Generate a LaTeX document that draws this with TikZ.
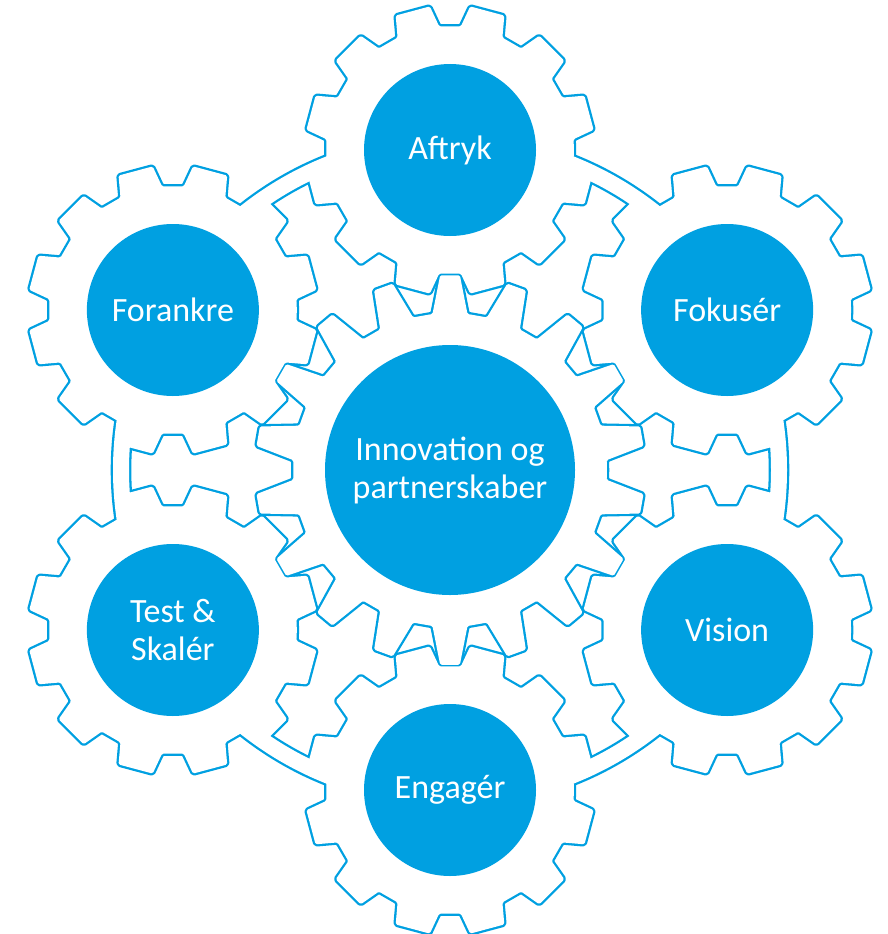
\documentclass[tikz,border=0pt]{standalone}
\usepackage{fontspec}
\setmainfont{Carlito}
\usetikzlibrary{calc,positioning}
\definecolor{gearblue}{RGB}{0,160,225}
\newcommand{\gearpath}[6]{({#2-180/#1}:#3)
  \foreach \t in {1,...,#1}{
    -- ({#2+(\t-1)*360/#1-#5}:#3) -- ({#2+(\t-1)*360/#1-#6}:#4)
    -- ({#2+(\t-1)*360/#1+#6}:#4) -- ({#2+(\t-1)*360/#1+#5}:#3)} -- cycle}

\begin{document}
\begin{tikzpicture}[x=1pt,y=-1pt,
  rim/.style={draw=gearblue,line width=4.6pt,line join=round,rounded corners=1.5pt},
  blank/.style={fill=white,rounded corners=1.5pt},
  hub/.style={circle,fill=gearblue,minimum size=172pt,inner sep=0pt,text=white,align=center,
    font=\fontsize{34}{38}\selectfont}]
\useasboundingbox (0,0) rectangle (887,934);
\coordinate (mid) at (450,470);
\foreach \a/\n in {-90/aftryk,-30/fokuser,30/vision,90/engager,150/test,210/forankre}
  \coordinate (g-\n) at ($(mid)+(\a:320)$);

\draw[rim] (mid) circle[radius=337] (mid) circle[radius=321];
\draw[rim,shift={(mid)}] \gearpath{18}{10}{157}{195}{6.4}{2.9};
\foreach \n in {aftryk,fokuser,vision,engager,test,forankre}
  \draw[rim,shift={(g-\n)}] \gearpath{12}{15}{124}{145}{10}{7};

\fill[white,even odd rule] (mid) circle[radius=337] (mid) circle[radius=321];
\fill[blank,shift={(mid)}] \gearpath{18}{10}{157}{195}{6.4}{2.9};
\foreach \n in {aftryk,fokuser,vision,engager,test,forankre}
  \fill[blank,shift={(g-\n)}] \gearpath{12}{15}{124}{145}{10}{7};

\node[hub,minimum size=250pt] (innovation) at (mid) {Innovation og\\partnerskaber};
\node[hub] (aftryk) at (g-aftryk) {Aftryk};
\node[hub] (fokuser) at (g-fokuser) {Fokusér};
\node[hub] (vision) at (g-vision) {Vision};
\node[hub] (engager) at (g-engager) {Engagér};
\node[hub] (test) at (g-test) {Test \&\\Skalér};
\node[hub] (forankre) at (g-forankre) {Forankre};
\end{tikzpicture}
\end{document}
